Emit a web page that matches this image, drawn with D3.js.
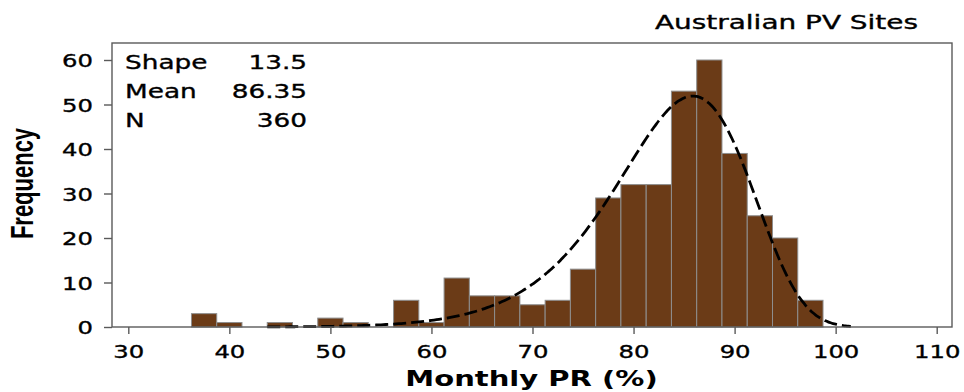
<!DOCTYPE html>
<html>
<head>
<meta charset="utf-8">
<script src="https://cdn.jsdelivr.net/npm/d3@7"></script>
<style>
  html, body { margin: 0; padding: 0; background: #fff; }
  svg { display: block; }
</style>
</head>
<body>
<svg id="chart" width="964" height="392"></svg>
<script>
// Histogram of monthly performance ratio, bins 2.5 % wide
const binCenters = [37.5, 40, 42.5, 45, 47.5, 50, 52.5, 55, 57.5, 60, 62.5, 65, 67.5, 70,
                    72.5, 75, 77.5, 80, 82.5, 85, 87.5, 90, 92.5, 95, 97.5];
const counts     = [3, 1, 0, 1, 0, 2, 1, 0, 6, 1, 11, 7, 7, 5,
                    6, 13, 29, 32, 32, 53, 60, 39, 25, 20, 6];
const binWidth = 2.5;

// Fitted Weibull distribution parameters
const statLabels = ["Shape", "Mean", "N"];
const statValues = ["13.5", "86.35", "360"];
const fitShape = 13.5;
const fitScale = 86.35;
const sampleN = 360;

const xTicks = [30, 40, 50, 60, 70, 80, 90, 100, 110];
const yTicks = [0, 10, 20, 30, 40, 50, 60];

const svg = d3.select("#chart");
const frame = { left: 112, right: 952, top: 43, bottom: 327 };
const SX = 1.35; // horizontal text stretch
const FONT = "DejaVu Sans, Verdana, sans-serif";

const x = d3.scaleLinear().domain([30, 110]).range([128.3, 936.7]);
const y = d3.scaleLinear().domain([0, 60]).range([327, 60]);

// bars
svg.append("g")
  .selectAll("rect")
  .data(binCenters.map((c, i) => ({ c, n: counts[i] })).filter(d => d.n > 0))
  .join("rect")
  .attr("x", d => x(d.c - binWidth / 2))
  .attr("width", d => x(d.c + binWidth / 2) - x(d.c - binWidth / 2))
  .attr("y", d => y(d.n))
  .attr("height", d => y(0) - y(d.n))
  .attr("fill", "#6b3b17")
  .attr("stroke", "#8e8e8e")
  .attr("stroke-width", 1);

// fitted Weibull curve scaled to counts per bin
function weibullPdf(v) {
  const z = v / fitScale;
  return (fitShape / fitScale) * Math.pow(z, fitShape - 1) * Math.exp(-Math.pow(z, fitShape));
}
const curveX = d3.range(43.75, 101.6, 0.25);
const line = d3.line()
  .x(v => x(v))
  .y(v => y(sampleN * binWidth * weibullPdf(v)))
  .curve(d3.curveBasis);
svg.append("path")
  .datum(curveX)
  .attr("d", line)
  .attr("fill", "none")
  .attr("stroke", "#000")
  .attr("stroke-width", 2.8)
  .attr("stroke-dasharray", "13,5");

// frame
svg.append("rect")
  .attr("x", frame.left).attr("y", frame.top)
  .attr("width", frame.right - frame.left)
  .attr("height", frame.bottom - frame.top)
  .attr("fill", "none")
  .attr("stroke", "#5a5a5a")
  .attr("stroke-width", 1.4);

// text helper: regular weight with a slight outline for heavier strokes
function styleText(sel, size) {
  return sel.attr("font-family", FONT)
    .attr("font-size", size)
    .attr("fill", "#000")
    .attr("stroke", "#000")
    .attr("stroke-width", 0.35);
}

// axes
const xAxis = d3.axisBottom(x).tickValues(xTicks).tickSize(7).tickSizeOuter(0).tickPadding(3);
const gx = svg.append("g").attr("transform", `translate(0,${frame.bottom})`).call(xAxis);
gx.select(".domain").remove();
gx.selectAll(".tick line").attr("stroke", "#5a5a5a").attr("stroke-width", 1.4);
gx.selectAll(".tick text").remove();
styleText(gx.selectAll(".tick").append("text"), 18)
  .attr("transform", `translate(0,30.5) scale(${SX},1)`)
  .attr("text-anchor", "middle")
  .text(d => d);

const yAxis = d3.axisLeft(y).tickValues(yTicks).tickSize(8).tickSizeOuter(0);
const gy = svg.append("g").attr("transform", `translate(${frame.left},0)`).call(yAxis);
gy.select(".domain").remove();
gy.selectAll(".tick line").attr("stroke", "#5a5a5a").attr("stroke-width", 1.4);
gy.selectAll(".tick text").remove();
styleText(gy.selectAll(".tick").append("text"), 18)
  .attr("transform", `translate(-19,6.6) scale(${SX},1)`)
  .attr("text-anchor", "end")
  .text(d => d);

// stats box text
const statG = svg.append("g");
statLabels.forEach((lab, i) => {
  const by = 69 + i * 28.8;
  styleText(statG.append("text"), 19.5)
    .attr("transform", `translate(125,${by}) scale(${SX},1)`)
    .text(lab);
  styleText(statG.append("text"), 19.5)
    .attr("transform", `translate(307,${by}) scale(${SX},1)`)
    .attr("text-anchor", "end")
    .text(statValues[i]);
});

// title
styleText(svg.append("text"), 19)
  .attr("x", 655).attr("y", 28.5)
  .attr("textLength", 263)
  .attr("lengthAdjust", "spacingAndGlyphs")
  .text("Australian PV Sites");

// axis titles
svg.append("text")
  .attr("transform", `translate(531.5,386) scale(1.32,1)`)
  .attr("text-anchor", "middle")
  .attr("font-family", FONT)
  .attr("font-weight", "bold")
  .attr("font-size", 22)
  .attr("fill", "#000")
  .text("Monthly PR (%)");

svg.append("text")
  .attr("transform", `translate(32.5,183.5) scale(1.4,1) rotate(-90)`)
  .attr("text-anchor", "middle")
  .attr("font-family", "Liberation Sans, Arial, sans-serif")
  .attr("font-weight", "bold")
  .attr("font-size", 22)
  .attr("fill", "#000")
  .text("Frequency");
</script>
</body>
</html>
